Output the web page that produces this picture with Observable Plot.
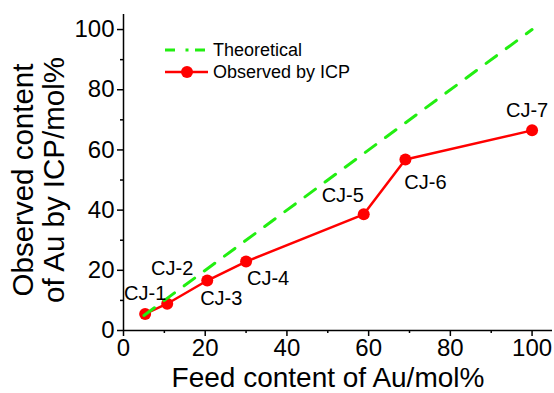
<!DOCTYPE html>
<html>
<head>
<meta charset="utf-8">
<script src="https://cdn.jsdelivr.net/npm/d3@7"></script>
<script src="https://cdn.jsdelivr.net/npm/@observablehq/plot@0.6"></script>
<style>
  html, body { margin: 0; padding: 0; background: #fff; }
  #chart svg { display: block; }
</style>
</head>
<body>
<div id="chart"></div>
<script>
// ---- data ----
const sampleNames = ["CJ-1", "CJ-2", "CJ-3", "CJ-4", "CJ-5", "CJ-6", "CJ-7"];
const feedAu = [5.3, 10.7, 20.5, 30.0, 58.8, 69.0, 100.0];
const observedAu = [5.5, 8.9, 16.6, 22.9, 38.6, 56.8, 66.5];
const theoreticalX = [5, 100];
const theoreticalY = [5, 100];
const majorTicks = [0, 20, 40, 60, 80, 100];
const minorTicks = [10, 30, 50, 70, 90];
const seriesNames = ["Theoretical", "Observed by ICP"];
const xTitle = "Feed content of Au/mol%";
const yTitleLines = ["Observed content", "of Au by ICP/mol%"];

// label placement (pixel offsets from each point)
const labelDx = [0, 5, 14, 22, -21, 20, -5];
const labelDy = [-20, -35, 18, 17, -19, 23, -20];

const observed = sampleNames.map((name, i) => ({name, x: feedAu[i], y: observedAu[i]}));
const theoretical = theoreticalX.map((x, i) => ({x, y: theoreticalY[i]}));

const GREEN = "#22ee11";
const RED = "#ff0000";
const FONT = "Arial, 'Liberation Sans', sans-serif";

const labelMarks = observed.map((d, i) =>
  Plot.text([d], {x: "x", y: "y", text: "name", dx: labelDx[i], dy: labelDy[i], fontSize: 20, fill: "#000"})
);

const chart = Plot.plot({
  width: 554,
  height: 393,
  marginLeft: 123,
  marginRight: 2,
  marginTop: 14,
  marginBottom: 63,
  style: {fontFamily: FONT, fontSize: "24px", color: "#000", background: "#fff"},
  x: {domain: [0, 105]},
  y: {domain: [0, 105]},
  marks: [
    Plot.axisX(minorTicks, {tickSize: 3, text: null, label: null, strokeWidth: 1.5}),
    Plot.axisY(minorTicks, {tickSize: 3, text: null, label: null, strokeWidth: 1.5}),
    Plot.axisX(majorTicks, {tickSize: 6, tickPadding: 2, label: null, strokeWidth: 1.5, fill: "#000"}),
    Plot.axisY(majorTicks, {tickSize: 6, tickPadding: 3, label: null, strokeWidth: 1.5, fill: "#000"}),
    Plot.ruleY([0], {x1: 0, x2: 105, strokeWidth: 1.5}),
    Plot.ruleX([0], {y1: 0, y2: 105, strokeWidth: 1.5}),
    Plot.line(observed, {x: "x", y: "y", stroke: RED, strokeWidth: 2.5}),
    Plot.dot(observed, {x: "x", y: "y", r: 6, fill: RED}),
    Plot.line(theoretical, {x: "x", y: "y", stroke: GREEN, strokeWidth: 3, strokeDasharray: "13,12"}),
    ...labelMarks
  ]
});

document.getElementById("chart").appendChild(chart);
const svg = d3.select(chart);

// axis titles
svg.append("text")
  .attr("x", 328).attr("y", 387)
  .attr("text-anchor", "middle")
  .attr("font-family", FONT).attr("font-size", 28).attr("fill", "#000")
  .text(xTitle);

const yTitleX = [33, 64];
yTitleLines.forEach((line, i) => {
  svg.append("text")
    .attr("transform", `translate(${yTitleX[i]},180) rotate(-90)`)
    .attr("text-anchor", "middle")
    .attr("font-family", FONT).attr("font-size", 29.5).attr("fill", "#000")
    .text(line);
});

// legend
const lg = svg.append("g").attr("font-family", FONT).attr("font-size", 18);
lg.append("line")
  .attr("x1", 165).attr("x2", 205).attr("y1", 50).attr("y2", 50)
  .attr("stroke", GREEN).attr("stroke-width", 3)
  .attr("stroke-dasharray", "10,10.5,3,6.5,10");
lg.append("line")
  .attr("x1", 165).attr("x2", 208).attr("y1", 72).attr("y2", 72)
  .attr("stroke", RED).attr("stroke-width", 2.5);
lg.append("circle").attr("cx", 187).attr("cy", 72).attr("r", 6).attr("fill", RED);
seriesNames.forEach((name, i) => {
  lg.append("text")
    .attr("x", 213).attr("y", 50 + i * 22)
    .attr("dy", "0.35em")
    .attr("text-anchor", "start")
    .attr("fill", "#000")
    .text(name);
});
</script>
</body>
</html>
